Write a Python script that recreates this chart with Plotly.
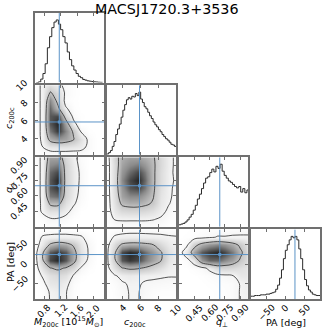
import plotly.graph_objects as go
from plotly.subplots import make_subplots

title_text = "MACSJ1720.3+3536"

# ---- parameters: M200c, c200c, q_perp, PA ----
param_ranges = [[0.58, 2.25], [2.2, 10.0], [0.295, 0.98], [-90, 90]]
tick_values = [[0.8, 1.2, 1.6, 2.0], [4, 6, 8, 10], [0.45, 0.60, 0.75, 0.90], [-50, 0, 50]]
tick_labels = [["0.8", "1.2", "1.6", "2.0"], ["4", "6", "8", "10"],
               ["0.45", "0.60", "0.75", "0.90"], ["\u221250", "0", "50"]]
truth_values = [1.165, 5.87, 0.70, 25.0]
x_titles = ["<i>M</i><sub>200c</sub> [10<sup>15</sup><i>M</i><sub>\u2299</sub>]",
            "<i>c</i><sub>200c</sub>", "<i>q</i><sub>\u22a5</sub>", "PA [deg]"]
y_titles = ["", "<i>c</i><sub>200c</sub>", "<i>q</i><sub>\u22a5</sub>", "PA [deg]"]

# ---- 1D marginal histograms (relative heights) ----
M_hist_start, M_hist_width = 0.612, 0.0532
M_hist = [0.00, 0.01, 0.05, 0.13, 0.27, 0.50, 0.66, 0.79, 0.87, 0.90, 0.84, 0.76, 0.66, 0.57, 0.44,
          0.33, 0.24, 0.18, 0.13, 0.09, 0.07, 0.045, 0.035, 0.025, 0.02, 0.015, 0.01, 0.008, 0.005, 0.003]
c_hist_start, c_hist_width = 2.2, 0.2
c_hist = [0.01, 0.03, 0.06, 0.12, 0.19, 0.29, 0.37, 0.44, 0.54, 0.64, 0.72, 0.79, 0.82, 0.80, 0.84,
          0.83, 0.88, 0.85, 0.90, 0.80, 0.75, 0.69, 0.66, 0.61, 0.56, 0.52, 0.47, 0.43, 0.40, 0.36,
          0.33, 0.29, 0.26, 0.23, 0.21, 0.18, 0.15, 0.14, 0.12]
q_hist_start, q_hist_width = 0.295, 0.0204
q_hist = [0.03, 0.04, 0.05, 0.07, 0.10, 0.14, 0.18, 0.24, 0.31, 0.40, 0.47, 0.55, 0.63, 0.70, 0.72,
          0.78, 0.83, 0.79, 0.87, 0.84, 0.90, 0.80, 0.74, 0.70, 0.66, 0.64, 0.61, 0.58, 0.56, 0.58,
          0.50, 0.55, 0.49, 0.53]
PA_hist_start, PA_hist_width = -90, 5
PA_hist = [0.04, 0.04, 0.05, 0.05, 0.05, 0.06, 0.06, 0.06, 0.07, 0.07, 0.08, 0.09, 0.10, 0.14, 0.20,
           0.30, 0.42, 0.58, 0.70, 0.78, 0.85, 0.90, 0.88, 0.90, 0.85, 0.72, 0.58, 0.42, 0.28, 0.19,
           0.13, 0.10, 0.07, 0.06, 0.05, 0.05]

# ---- 2D density grids (node positions per parameter) ----
M_grid = [0.58, 0.766, 0.951, 1.137, 1.322, 1.508, 1.693, 1.879, 2.064, 2.25]
c_grid = [2.2, 3.07, 3.93, 4.8, 5.67, 6.53, 7.4, 8.27, 9.13, 10.0]
q_grid = [0.295, 0.371, 0.447, 0.523, 0.599, 0.676, 0.752, 0.828, 0.904, 0.98]
PA_grid = [-90, -70, -50, -30, -10, 10, 30, 50, 70, 90]

# densities, rows listed from the top of each panel (highest y) downwards
z_M_c = [
    [0.00, 0.15, 0.25, 0.15, 0.05, 0.02, 0.00, 0.00, 0.00, 0.00],
    [0.00, 0.15, 0.48, 0.30, 0.06, 0.02, 0.00, 0.00, 0.00, 0.00],
    [0.00, 0.15, 0.70, 0.36, 0.03, 0.01, 0.00, 0.00, 0.00, 0.00],
    [0.00, 0.15, 0.80, 0.50, 0.12, 0.02, 0.00, 0.00, 0.00, 0.00],
    [0.00, 0.15, 0.85, 0.90, 0.32, 0.05, 0.01, 0.00, 0.00, 0.00],
    [0.00, 0.15, 0.85, 1.00, 0.60, 0.15, 0.00, 0.00, 0.00, 0.00],
    [0.00, 0.15, 0.75, 0.95, 0.70, 0.41, 0.08, 0.01, 0.00, 0.00],
    [0.00, 0.14, 0.55, 0.65, 0.60, 0.47, 0.25, 0.05, 0.00, 0.00],
    [0.00, 0.10, 0.20, 0.22, 0.22, 0.20, 0.17, 0.05, 0.00, 0.00],
    [0.00, 0.00, 0.01, 0.01, 0.01, 0.01, 0.01, 0.00, 0.00, 0.00],
]
z_M_q = [
    [0.00, 0.15, 0.60, 0.60, 0.30, 0.14, 0.04, 0.00, 0.00, 0.00],
    [0.00, 0.15, 0.70, 0.75, 0.35, 0.17, 0.05, 0.00, 0.00, 0.00],
    [0.00, 0.15, 0.80, 0.90, 0.36, 0.18, 0.07, 0.00, 0.00, 0.00],
    [0.00, 0.15, 0.85, 1.00, 0.36, 0.18, 0.07, 0.00, 0.00, 0.00],
    [0.00, 0.15, 0.85, 0.95, 0.35, 0.18, 0.06, 0.00, 0.00, 0.00],
    [0.00, 0.15, 0.75, 0.80, 0.33, 0.16, 0.05, 0.00, 0.00, 0.00],
    [0.00, 0.14, 0.50, 0.52, 0.25, 0.12, 0.03, 0.00, 0.00, 0.00],
    [0.00, 0.13, 0.25, 0.25, 0.15, 0.05, 0.00, 0.00, 0.00, 0.00],
    [0.00, 0.03, 0.08, 0.08, 0.05, 0.00, 0.00, 0.00, 0.00, 0.00],
    [0.00, 0.00, 0.01, 0.01, 0.00, 0.00, 0.00, 0.00, 0.00, 0.00],
]
z_M_PA = [
    [0.00, 0.01, 0.02, 0.02, 0.02, 0.01, 0.00, 0.00, 0.00, 0.00],
    [0.00, 0.12, 0.14, 0.15, 0.15, 0.14, 0.12, 0.03, 0.00, 0.00],
    [0.00, 0.20, 0.50, 0.60, 0.55, 0.42, 0.20, 0.07, 0.00, 0.00],
    [0.00, 0.42, 0.85, 0.95, 0.85, 0.55, 0.25, 0.08, 0.00, 0.00],
    [0.00, 0.42, 0.90, 1.00, 0.85, 0.55, 0.22, 0.06, 0.00, 0.00],
    [0.00, 0.25, 0.44, 0.50, 0.43, 0.30, 0.08, 0.02, 0.00, 0.00],
    [0.00, 0.12, 0.25, 0.30, 0.25, 0.08, 0.02, 0.00, 0.00, 0.00],
    [0.00, 0.05, 0.20, 0.22, 0.15, 0.03, 0.00, 0.00, 0.00, 0.00],
    [0.00, 0.02, 0.12, 0.16, 0.11, 0.02, 0.00, 0.00, 0.00, 0.00],
    [0.00, 0.02, 0.11, 0.14, 0.11, 0.02, 0.00, 0.00, 0.00, 0.00],
]
z_c_q = [
    [0.00, 0.35, 0.55, 0.60, 0.60, 0.55, 0.48, 0.30, 0.15, 0.07],
    [0.00, 0.30, 0.60, 0.70, 0.75, 0.65, 0.50, 0.30, 0.15, 0.07],
    [0.00, 0.30, 0.65, 0.80, 0.90, 0.75, 0.50, 0.28, 0.14, 0.07],
    [0.00, 0.30, 0.70, 0.90, 1.00, 0.80, 0.50, 0.28, 0.14, 0.08],
    [0.00, 0.30, 0.65, 0.85, 0.90, 0.75, 0.50, 0.25, 0.13, 0.07],
    [0.00, 0.28, 0.60, 0.70, 0.70, 0.60, 0.47, 0.22, 0.13, 0.06],
    [0.00, 0.25, 0.50, 0.55, 0.55, 0.50, 0.42, 0.20, 0.11, 0.05],
    [0.00, 0.20, 0.30, 0.32, 0.32, 0.30, 0.25, 0.15, 0.07, 0.03],
    [0.00, 0.11, 0.12, 0.12, 0.12, 0.12, 0.11, 0.08, 0.03, 0.01],
    [0.00, 0.02, 0.03, 0.03, 0.03, 0.03, 0.02, 0.01, 0.00, 0.00],
]
z_c_PA = [
    [0.00, 0.02, 0.03, 0.03, 0.03, 0.03, 0.03, 0.03, 0.03, 0.03],
    [0.02, 0.12, 0.15, 0.17, 0.17, 0.16, 0.15, 0.14, 0.12, 0.11],
    [0.03, 0.30, 0.50, 0.55, 0.55, 0.52, 0.46, 0.30, 0.18, 0.14],
    [0.05, 0.40, 0.90, 1.00, 0.95, 0.80, 0.65, 0.48, 0.25, 0.16],
    [0.05, 0.40, 0.85, 0.95, 0.90, 0.75, 0.60, 0.47, 0.22, 0.15],
    [0.04, 0.25, 0.44, 0.50, 0.48, 0.42, 0.35, 0.25, 0.15, 0.12],
    [0.00, 0.08, 0.15, 0.18, 0.16, 0.14, 0.13, 0.12, 0.11, 0.11],
    [0.00, 0.03, 0.08, 0.12, 0.12, 0.08, 0.07, 0.06, 0.05, 0.05],
    [0.00, 0.02, 0.06, 0.11, 0.11, 0.06, 0.03, 0.02, 0.02, 0.02],
    [0.00, 0.02, 0.05, 0.11, 0.11, 0.05, 0.02, 0.01, 0.01, 0.01],
]
z_q_PA = [
    [0.00, 0.00, 0.01, 0.02, 0.03, 0.03, 0.03, 0.04, 0.05, 0.05],
    [0.00, 0.01, 0.02, 0.04, 0.07, 0.11, 0.11, 0.12, 0.12, 0.12],
    [0.00, 0.05, 0.35, 0.55, 0.65, 0.70, 0.65, 0.55, 0.40, 0.25],
    [0.00, 0.22, 0.60, 0.85, 0.95, 1.00, 0.90, 0.75, 0.50, 0.30],
    [0.00, 0.03, 0.20, 0.65, 0.80, 0.80, 0.70, 0.60, 0.42, 0.28],
    [0.00, 0.00, 0.02, 0.05, 0.14, 0.30, 0.32, 0.30, 0.25, 0.22],
    [0.00, 0.00, 0.00, 0.01, 0.03, 0.05, 0.07, 0.09, 0.20, 0.20],
    [0.00, 0.00, 0.00, 0.00, 0.01, 0.02, 0.03, 0.04, 0.11, 0.15],
    [0.00, 0.00, 0.00, 0.00, 0.00, 0.01, 0.02, 0.04, 0.11, 0.14],
    [0.00, 0.00, 0.00, 0.00, 0.00, 0.01, 0.02, 0.04, 0.11, 0.13],
]

contour_levels = [0.1, 0.45]

hists = [(M_hist_start, M_hist_width, M_hist), (c_hist_start, c_hist_width, c_hist),
         (q_hist_start, q_hist_width, q_hist), (PA_hist_start, PA_hist_width, PA_hist)]
grids = [M_grid, c_grid, q_grid, PA_grid]
densities = {(1, 0): z_M_c, (2, 0): z_M_q, (3, 0): z_M_PA,
             (2, 1): z_c_q, (3, 1): z_c_PA, (3, 2): z_q_PA}

# ---- styling ----
FONT = "DejaVu Sans"
frame_color = "#707070"
truth_color = "#5b93c7"
line_color = "#2a2a2a"
grey_scale = [[0.0, "#ffffff"], [0.1, "#f5f5f5"], [0.45, "#c6c6c6"], [0.7, "#8c8c8c"],
              [0.9, "#474747"], [1.0, "#262626"]]

L, R, T, B, W, H = 35, 13, 13, 34, 333, 333
pw, ph = W - L - R, H - T - B

def px_to_paper(px, py):
    return (px - L) / pw, (H - B - py) / ph

fig = make_subplots(rows=4, cols=4, horizontal_spacing=0.009, vertical_spacing=0.009)

def axkey(prefix, r, c):
    idx = r * 4 + c + 1
    return prefix if idx == 1 else f"{prefix}{idx}"

def axref(prefix, r, c):
    idx = r * 4 + c + 1
    return prefix if idx == 1 else f"{prefix}{idx}"

base_axis = dict(showline=True, linecolor=frame_color, linewidth=1.6, mirror="ticks",
                 ticks="inside", ticklen=3, tickwidth=1, tickcolor=frame_color,
                 showgrid=False, zeroline=False, showticklabels=False)

for r in range(4):
    for c in range(4):
        xk, yk = axkey("xaxis", r, c), axkey("yaxis", r, c)
        if c > r:
            fig.update_layout({xk: dict(visible=False), yk: dict(visible=False)})
            continue
        xa = dict(base_axis, range=param_ranges[c], tickvals=tick_values[c])
        if c == r:
            start, width, vals = hists[c]
            edges = [start + k * width for k in range(len(vals) + 1)]
            fig.add_trace(go.Scatter(x=edges, y=list(vals) + [vals[-1]], mode="lines",
                                     line=dict(color=line_color, width=1, shape="hv"),
                                     hoverinfo="skip"), row=r + 1, col=c + 1)
            fig.add_trace(go.Scatter(x=[truth_values[c], truth_values[c]], y=[0, 1], mode="lines",
                                     line=dict(color=truth_color, width=1), hoverinfo="skip"),
                          row=r + 1, col=c + 1)
            ya = dict(base_axis, range=[0, 1], ticks="")
        else:
            z = densities[(r, c)][::-1]
            fig.add_trace(go.Heatmap(x=grids[c], y=grids[r], z=z, zmin=0, zmax=1, zsmooth="best",
                                     colorscale=grey_scale, showscale=False, hoverinfo="skip"),
                          row=r + 1, col=c + 1)
            fig.add_trace(go.Contour(x=grids[c], y=grids[r], z=z, autocontour=False,
                                     contours=dict(start=contour_levels[0], end=contour_levels[1] + 1e-6,
                                                   size=contour_levels[1] - contour_levels[0],
                                                   coloring="none"),
                                     line=dict(color=line_color, width=0.8, smoothing=1.0),
                                     showscale=False, hoverinfo="skip"), row=r + 1, col=c + 1)
            fig.add_trace(go.Scatter(x=[truth_values[c], truth_values[c]], y=param_ranges[r], mode="lines",
                                     line=dict(color=truth_color, width=1), hoverinfo="skip"),
                          row=r + 1, col=c + 1)
            fig.add_trace(go.Scatter(x=param_ranges[c], y=[truth_values[r], truth_values[r]], mode="lines",
                                     line=dict(color=truth_color, width=1), hoverinfo="skip"),
                          row=r + 1, col=c + 1)
            fig.add_trace(go.Scatter(x=[truth_values[c]], y=[truth_values[r]], mode="markers",
                                     marker=dict(color=truth_color, size=3, symbol="square"),
                                     hoverinfo="skip"), row=r + 1, col=c + 1)
            ya = dict(base_axis, range=param_ranges[r], tickvals=tick_values[r])
        fig.update_layout({xk: xa, yk: ya})

# ---- text: title, rotated tick labels (matplotlib style) and axis labels ----
annotations = []
tick_font = dict(family=FONT, size=9, color="#000")
tx, ty = px_to_paper(166.5, 9)
annotations.append(dict(text=title_text, x=tx, y=ty, xref="paper", yref="paper", showarrow=False,
                        xanchor="center", yanchor="middle", font=dict(family=FONT, size=14.3, color="#000")))

_, y_xtick = px_to_paper(0, 301)
for c in range(4):
    for v, t in zip(tick_values[c], tick_labels[c]):
        annotations.append(dict(text=t, x=v, y=y_xtick, xref=axref("x", 3, c), yref="paper",
                                showarrow=False, textangle=-45, xanchor="center", yanchor="top",
                                font=tick_font, borderpad=0))
x_ytick, _ = px_to_paper(31.5, 0)
for r in range(1, 4):
    for v, t in zip(tick_values[r], tick_labels[r]):
        annotations.append(dict(text=t, x=x_ytick, y=v, xref="paper", yref=axref("y", r, 0),
                                showarrow=False, textangle=-45, xanchor="right", yanchor="middle",
                                font=tick_font, borderpad=0))

x_title_px = [68, 135, 222, 286]
for k in range(4):
    ax_, ay_ = px_to_paper(x_title_px[k], 322)
    annotations.append(dict(text=x_titles[k], x=ax_, y=ay_, xref="paper", yref="paper", showarrow=False,
                            xanchor="center", yanchor="middle", font=dict(family=FONT, size=9.5, color="#000")))
y_title_py = [0, 118, 187, 262]
for k in range(1, 4):
    ax_, ay_ = px_to_paper(10, y_title_py[k])
    annotations.append(dict(text=y_titles[k], x=ax_, y=ay_, xref="paper", yref="paper", showarrow=False,
                            textangle=-90, xanchor="center", yanchor="middle",
                            font=dict(family=FONT, size=9.5, color="#000")))

fig.update_layout(width=W, height=H, margin=dict(l=L, r=R, t=T, b=B), showlegend=False,
                  paper_bgcolor="white", plot_bgcolor="white", annotations=annotations)

# remove the browser's default page margin so the 333x333 figure fills the window
fig.write_html("out.html", config={"displayModeBar": False},
               post_script="document.body.style.margin='0px';")
